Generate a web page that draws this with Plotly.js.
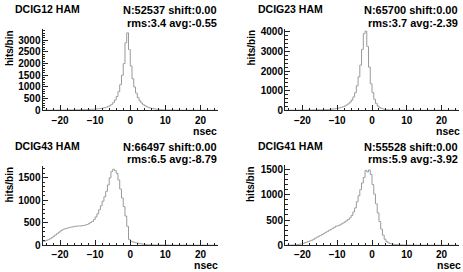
<!DOCTYPE html>
<html>
<head>
<meta charset="utf-8">
<script src="https://cdn.plot.ly/plotly-3.0.1.min.js"></script>
<style>html,body{margin:0;padding:0;background:#fff;}#chart{width:463px;height:272px;}</style>
</head>
<body>
<div id="chart"></div>
<script>
// Histogram settings: 100 bins of 0.5 nsec from -25 to 25
const binStart = -25;
const binWidth = 0.5;

// Panel titles and stats
const titles = ["DCIG12 HAM", "DCIG23 HAM", "DCIG43 HAM", "DCIG41 HAM"];
const statsN = ["N:52537 shift:0.00", "N:65700 shift:0.00", "N:66497 shift:0.00", "N:55528 shift:0.00"];
const statsRms = ["rms:3.4 avg:-0.55", "rms:3.7 avg:-2.39", "rms:6.5 avg:-8.79", "rms:5.9 avg:-3.92"];
const xTitle = "nsec";
const yTitle = "hits/bin";

// DCIG12 hits per bin (rows of 10 bins: -25..-20, -20..-15, ...)
const dcig12 = [
  4,4,5,5,6,6,7,7,8,9,
  10,11,12,13,14,16,17,19,21,23,
  26,28,30,32,34,36,38,41,44,49,
  55,62,70,80,92,108,130,160,200,255,
  330,440,590,800,1100,1500,2000,2900,3320,2600,
  1900,1350,1000,740,550,410,315,245,195,155,
  124,100,80,64,52,42,34,28,23,19,
  15,12,10,8,7,6,5,5,4,4,
  3,3,3,2,2,2,2,2,2,2,
  1,1,1,1,1,1,1,1,1,1
];
// DCIG23 hits per bin
const dcig23 = [
  3,3,4,4,5,5,6,7,7,8,
  9,10,11,12,14,15,17,18,20,23,
  23,26,30,34,40,46,54,63,74,88,
  105,125,150,180,220,270,330,410,520,680,
  900,1250,1700,2300,3100,3900,4030,3250,2200,1350,
  900,560,350,220,145,98,68,48,35,26,
  19,14,11,9,7,6,5,4,4,3,
  3,3,2,2,2,2,2,2,2,1,
  1,1,1,1,1,1,1,1,1,1,
  1,1,1,1,1,1,1,1,1,1
];
// DCIG43 hits per bin
const dcig43 = [
  85,95,110,125,145,170,200,230,260,290,
  320,345,360,375,385,395,405,410,420,425,
  430,428,435,440,450,462,480,505,530,570,
  630,700,790,880,980,1080,1200,1340,1500,1640,
  1690,1660,1600,1450,1250,1050,860,650,420,130,
  90,75,65,55,45,37,30,24,19,15,
  12,10,8,7,6,5,4,4,4,3,
  3,3,3,3,3,2,2,2,2,2,
  2,2,2,2,2,2,2,2,2,2,
  2,2,2,2,2,2,2,2,2,2
];
// DCIG41 hits per bin
const dcig41 = [
  0,1,2,3,5,7,10,14,20,28,
  38,50,62,75,88,100,118,140,160,178,
  195,212,235,255,275,295,315,335,355,378,
  385,400,420,440,460,485,510,545,590,660,
  740,860,980,1100,1230,1340,1480,1450,1490,1400,
  1200,1010,820,640,470,320,200,120,75,50,
  36,27,20,15,12,10,8,6,5,4,
  3,3,3,2,2,2,2,2,2,2,
  2,2,1,1,1,1,1,1,1,1,
  1,1,1,1,1,1,1,1,1,1
];

const series = [dcig12, dcig23, dcig43, dcig41];
const yMax = [3485, 4140, 1762, 1581];
const yDtick = [500, 1000, 500, 500];
const yMinor = [100, 200, 100, 100];

const W = 463, H = 272;
// pixel boxes [x0, x1, yTop, yBottom]
const boxes = [
  [42.5, 218, 29, 110.3],
  [285, 459, 29, 110.3],
  [42.5, 218, 166, 245.3],
  [285, 459, 165.3, 245.3]
];

const FONT = "Liberation Sans, Arial, Helvetica, sans-serif";
const traces = [];
const layout = {
  width: W, height: H,
  margin: {l: 0, r: 0, t: 0, b: 0},
  paper_bgcolor: "#fff", plot_bgcolor: "#fff",
  showlegend: false,
  annotations: []
};

series.forEach((vals, k) => {
  const sfx = k === 0 ? "" : String(k + 1);
  const centers = vals.map((_, i) => binStart + binWidth * (i + 0.5));
  traces.push({
    type: "scatter", mode: "lines",
    x: centers, y: vals,
    line: {shape: "hvh", color: "#999999", width: 1},
    xaxis: "x" + sfx, yaxis: "y" + sfx,
    hoverinfo: "skip"
  });
  const b = boxes[k];
  const common = {
    showline: true, linecolor: "#222", linewidth: 1,
    ticks: "inside", tickcolor: "#222", tickwidth: 1,
    showgrid: false, zeroline: false,
    tickfont: {family: FONT, size: 10, weight: 700, color: "#000"}
  };
  layout["xaxis" + sfx] = Object.assign({}, common, {
    domain: [b[0] / W, b[1] / W], anchor: "y" + sfx,
    range: [-25, 25], tick0: 0, dtick: 10, ticklen: 5,
    ticklabelstandoff: k < 2 ? 1 : 0,
    minor: {ticks: "inside", ticklen: 2.5, dtick: 2, tick0: 0, tickcolor: "#222", showgrid: false}
  });
  layout["yaxis" + sfx] = Object.assign({}, common, {
    domain: [1 - b[3] / H, 1 - b[2] / H], anchor: "x" + sfx,
    range: [0, yMax[k]], tick0: 0, dtick: yDtick[k], ticklen: 5,
    ticklabelstandoff: -1,
    minor: {ticks: "inside", ticklen: 2.5, dtick: yMinor[k], tick0: 0, tickcolor: "#222", showgrid: false}
  });
  const ann = (text, xpx, ypx, xanchor, size, angle, yanchor, pad) => ({
    text: text, xref: "paper", yref: "paper",
    x: xpx / W, y: 1 - ypx / H, xanchor: xanchor, yanchor: yanchor || "middle",
    showarrow: false, textangle: angle || 0, borderpad: pad === undefined ? 1 : pad,
    font: {family: FONT, size: size, weight: 700, color: "#000"}
  });
  const left = k % 2 === 0 ? 13 : 255.5;
  const right = k % 2 === 0 ? 219 : 459.5;
  const top = k < 2 ? 0 : 136.5;
  layout.annotations.push(ann(titles[k], left, top + 9.5, "left", 10.5));
  layout.annotations.push(ann(statsN[k], right, top + 10, "right", 11));
  layout.annotations.push(ann(statsRms[k], right, top + 22.5, "right", 11));
  const nsecX = k % 2 === 0 ? 218.5 : 461.5;
  if (k < 2) {
    layout.annotations.push(ann(xTitle, nsecX, 131, "right", 10.5));
  } else {
    layout.annotations.push(ann(xTitle, nsecX, 271.8, "right", 10.5, 0, "bottom", 0));
  }
  layout.annotations.push(ann(yTitle, k % 2 === 0 ? 9 : 250.5, top + 48, "center", 10, -90));
});

Plotly.newPlot("chart", traces, layout, {staticPlot: true});
</script>
</body>
</html>
